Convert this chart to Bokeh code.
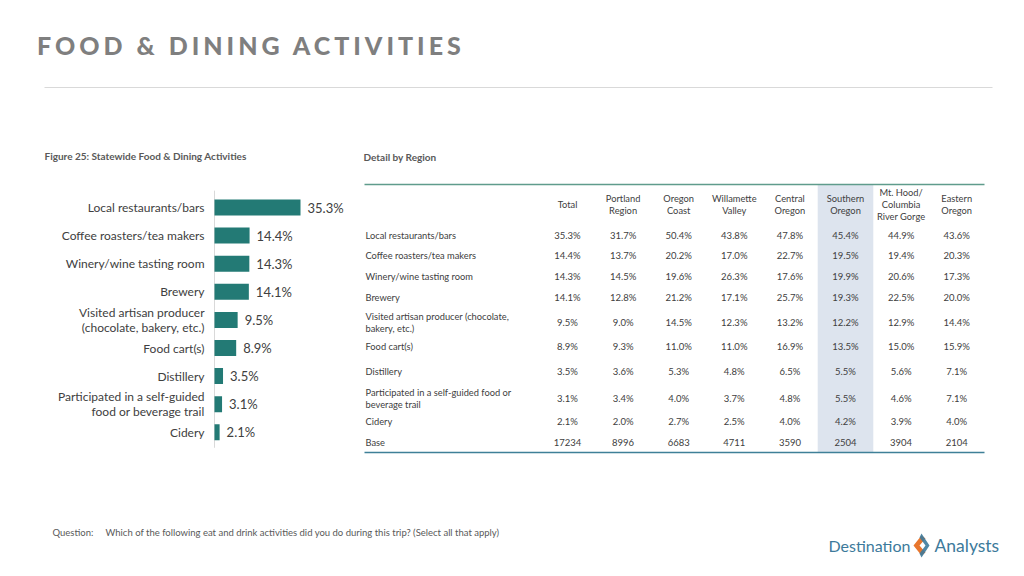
from bokeh.plotting import figure
from bokeh.models import Range1d, ColumnDataSource, Div
from bokeh.layouts import column
from bokeh.core.properties import value
from bokeh.embed import file_html
from bokeh.resources import INLINE

# ---------------- data ----------------
bar_labels = ["Local restaurants/bars", "Coffee roasters/tea makers", "Winery/wine tasting room",
              "Brewery", "Visited artisan producer\n(chocolate, bakery, etc.)", "Food cart(s)",
              "Distillery", "Participated in a self-guided\nfood or beverage trail", "Cidery"]
bar_values = [35.3, 14.4, 14.3, 14.1, 9.5, 8.9, 3.5, 3.1, 2.1]

row_labels = ["Local restaurants/bars", "Coffee roasters/tea makers", "Winery/wine tasting room",
              "Brewery", "Visited artisan producer (chocolate,\nbakery, etc.)", "Food cart(s)",
              "Distillery", "Participated in a self-guided food or\nbeverage trail", "Cidery", "Base"]
regions = ["Total", "Portland\nRegion", "Oregon\nCoast", "Willamette\nValley", "Central\nOregon",
           "Southern\nOregon", "Mt. Hood/\nColumbia\nRiver Gorge", "Eastern\nOregon"]
total = [35.3, 14.4, 14.3, 14.1, 9.5, 8.9, 3.5, 3.1, 2.1]
portland = [31.7, 13.7, 14.5, 12.8, 9.0, 9.3, 3.6, 3.4, 2.0]
oregon_coast = [50.4, 20.2, 19.6, 21.2, 14.5, 11.0, 5.3, 4.0, 2.7]
willamette = [43.8, 17.0, 26.3, 17.1, 12.3, 11.0, 4.8, 3.7, 2.5]
central = [47.8, 22.7, 17.6, 25.7, 13.2, 16.9, 6.5, 4.8, 4.0]
southern = [45.4, 19.5, 19.9, 19.3, 12.2, 13.5, 5.5, 5.5, 4.2]
mt_hood = [44.9, 19.4, 20.6, 22.5, 12.9, 15.0, 5.6, 4.6, 3.9]
eastern = [43.6, 20.3, 17.3, 20.0, 14.4, 15.9, 7.1, 7.1, 4.0]
bases = [17234, 8996, 6683, 4711, 3590, 2504, 3904, 2104]
highlight_region = 5

# ---------------- layout ----------------
FONT = value("Lato")
W, H_DIV = 1016, 70
TOP = H_DIV
H_FIG = 568 - TOP
row_y = [235, 255, 276, 297, 322, 346, 371, 398, 421, 442]
header_y = 204

title = Div(text='<div style="font-family:Lato;font-weight:900;font-size:25px;line-height:25px;'
                 'letter-spacing:4.0px;color:#7f7f7f;padding:33px 0 0 37px;white-space:nowrap;">'
                 'FOOD &amp; DINING ACTIVITIES</div>',
            width=W, height=H_DIV, margin=0)

p = figure(width=W, height=H_FIG, output_backend="svg", toolbar_location=None,
           x_range=Range1d(0, W), y_range=Range1d(568, TOP),
           min_border=0, min_border_left=0, min_border_right=0, min_border_top=0, min_border_bottom=0)
p.axis.visible = False
p.grid.visible = False
p.outline_line_color = None
p.background_fill_color = "white"
p.border_fill_color = "white"

# bar-chart scales
k = 86 / 35.3
bx0 = -214 / k
p.extra_x_ranges["bx"] = Range1d(bx0, bx0 + W / k)
step = 28.1
by_top = -(207 - TOP) / step
p.extra_y_ranges["by"] = Range1d(by_top + H_FIG / step, by_top)
# table column scale
col_step = 55.6
tx0 = -567 / col_step
p.extra_x_ranges["tx"] = Range1d(tx0, tx0 + W / col_step)

# header separator
p.segment(x0=[44], x1=[992], y0=[87], y1=[87], line_color="#d9d9d9", line_width=1)

# subtitles
p.text(x=[44], y=[155], text=["Figure 25: Statewide Food & Dining Activities"], text_font=FONT,
       text_font_size="10px", text_font_style="bold", text_color="#595959", text_baseline="middle")
p.text(x=[363], y=[156], text=["Detail by Region"], text_font=FONT,
       text_font_size="10px", text_font_style="bold", text_color="#595959", text_baseline="middle")

# ---------------- bar chart ----------------
idx = list(range(len(bar_values)))
bsrc = ColumnDataSource(dict(y=idx, v=bar_values, lab=bar_labels,
                             txt=[f"{v:.1f}%" for v in bar_values]))
p.segment(x0=[0], x1=[0], y0=[-0.6], y1=[len(idx) - 0.45], x_range_name="bx", y_range_name="by",
          line_color="#d9d9d9", line_width=1)
p.hbar(y="y", left=0, right="v", height=0.57, source=bsrc, x_range_name="bx", y_range_name="by",
       fill_color="#237a75", line_color=None)
p.text(x=0, y="y", text="lab", source=bsrc, x_range_name="bx", y_range_name="by", x_offset=-10,
       text_font=FONT, text_font_size="12px", text_color="#404040", text_align="right",
       text_baseline="middle", text_line_height=1.04)
p.text(x="v", y="y", text="txt", source=bsrc, x_range_name="bx", y_range_name="by", x_offset=7,
       text_font=FONT, text_font_size="13px", text_color="#404040", text_align="left",
       text_baseline="middle")

# ---------------- table ----------------
ncol = len(regions)
p.quad(left=[highlight_region - 0.5], right=[highlight_region + 0.5], top=[184], bottom=[452],
       x_range_name="tx", fill_color="#dde4ee", line_color=None)
p.segment(x0=[364], x1=[984], y0=[184], y1=[184], line_color="#5f9c8c", line_width=1.6)
p.segment(x0=[364], x1=[984], y0=[452], y1=[452], line_color="#3f8098", line_width=1.6)

p.text(x=list(range(ncol)), y=[header_y] * ncol, text=regions, x_range_name="tx",
       text_font=FONT, text_font_size="9.3px", text_color="#404040", text_align="center",
       text_baseline="middle", text_line_height=1.12)
p.text(x=[365] * len(row_labels), y=row_y, text=row_labels, text_font=FONT,
       text_font_size="9.3px", text_color="#404040", text_align="left", text_baseline="middle",
       text_line_height=1.08)

cols = [total, portland, oregon_coast, willamette, central, southern, mt_hood, eastern]
cx, cy, ct = [], [], []
for j, colvals in enumerate(cols):
    for i, v in enumerate(colvals):
        cx.append(j)
        cy.append(row_y[i])
        ct.append(f"{v:.1f}%")
    cx.append(j)
    cy.append(row_y[len(colvals)])
    ct.append(str(bases[j]))
p.text(x=cx, y=cy, text=ct, x_range_name="tx", text_font=FONT, text_font_size="9.5px",
       text_color="#404040", text_align="center", text_baseline="middle")

# ---------------- footer ----------------
p.text(x=[52], y=[532], text=["Question:"], text_font=FONT, text_font_size="9.5px",
       text_color="#595959", text_baseline="middle")
p.text(x=[105], y=[532], text=["Which of the following eat and drink activities did you do during this trip? (Select all that apply)"],
       text_font=FONT, text_font_size="9.5px", text_color="#595959", text_baseline="middle")

# logo
p.text(x=[828], y=[545], text=["Destination"], text_font=FONT, text_font_size="16px",
       text_color="#3d7a9b", text_baseline="middle")
p.text(x=[934], y=[545], text=["Analysts"], text_font=FONT, text_font_size="17.5px",
       text_color="#3d7a9b", text_baseline="middle")
p.patch(x=[921, 913, 921, 925, 919, 925], y=[535, 545, 555, 552, 545, 538],
        fill_color="#e8762d", line_color=None)
p.patch(x=[921, 929, 921, 919, 925, 919], y=[533, 545, 557, 553, 545, 537],
        fill_color="#3d7a9b", line_color=None, fill_alpha=0.9)

layout = column(title, p, spacing=0)
open("out.html", "w").write(file_html(layout, INLINE))
